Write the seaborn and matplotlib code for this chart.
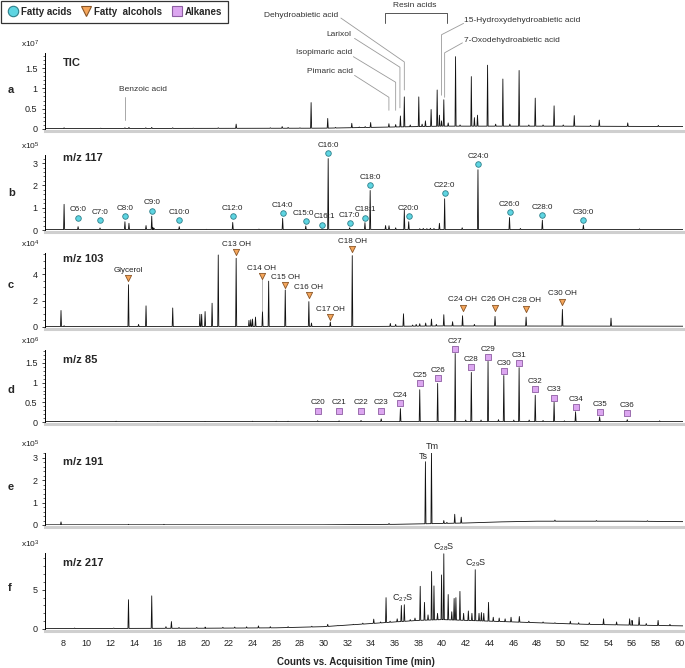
import numpy as np
import pandas as pd
import matplotlib
matplotlib.use('Agg')
import matplotlib.pyplot as plt
import seaborn as sns
from matplotlib.ticker import MultipleLocator
from matplotlib.lines import Line2D

# ---------------- data ----------------
# Panel a: TIC (x1e7)
tic_t = [8.11, 9.5, 11.2, 13.24, 13.58, 15.0, 15.5, 17.27, 19.0, 21.11, 22.62, 24.5, 25.5, 26.5, 27.0, 28.0,
         28.94, 30.34, 31.0, 32.37, 33.0, 33.5, 33.96, 35.5, 36.07, 36.47, 36.8, 37.3, 38.02, 38.3, 38.58,
         39.06, 39.57, 39.76, 39.94, 40.13, 40.5, 41.12, 41.5, 42.45, 42.71, 42.97, 43.82, 44.5, 45.11, 45.7,
         46.48, 47.3, 47.84, 48.5, 49.43, 50.2, 51.13, 52.5, 53.24, 55.64, 58.22]
tic_h = [0.03, 0.01, 0.02, 0.03, 0.04, 0.03, 0.04, 0.03, 0.02, 0.03, 0.12, 0.02, 0.03, 0.06, 0.04, 0.03,
         0.65, 0.26, 0.04, 0.14, 0.05, 0.06, 0.16, 0.13, 0.11, 0.32, 0.79, 0.10, 0.79, 0.12, 0.20,
         0.48, 0.96, 0.34, 0.20, 0.72, 0.15, 1.78, 0.10, 1.29, 0.28, 0.34, 1.57, 0.12, 1.23, 0.12,
         1.44, 0.10, 0.76, 0.10, 0.57, 0.10, 0.33, 0.09, 0.22, 0.15, 0.09]
tic_bl_t = [6.5, 30.0, 36.0, 40.0, 50.0, 60.3]
tic_bl_v = [0.01, 0.02, 0.05, 0.07, 0.07, 0.06]

# Panel b: m/z 117 (x1e5)
m117_t = [8.11, 9.29, 11.14, 13.24, 13.58, 15.02, 15.50, 15.6, 15.7, 17.82, 20.11, 22.33, 24.54, 26.54, 28.49,
          29.86, 30.38, 32.19, 33.48, 33.92, 35.22, 35.51, 36.07, 36.8, 37.17, 38.1, 38.4, 38.7, 39.0, 39.3,
          39.76, 40.20, 41.68, 43.01, 45.67, 46.59, 48.44, 51.9, 56.63]
m117_h = [1.15, 0.15, 0.09, 0.37, 0.30, 0.20, 0.62, 0.12, 0.08, 0.15, 0.03, 0.34, 0.04, 0.52, 0.18,
          0.06, 3.20, 0.10, 0.33, 1.77, 0.20, 0.19, 0.10, 0.89, 0.37, 0.06, 0.07, 0.06, 0.08, 0.07,
          0.30, 1.40, 0.10, 2.70, 0.56, 0.07, 0.44, 0.22, 0.05]
m117_bl_t = [6.5, 60.3]
m117_bl_v = [0.02, 0.02]

# Panel c: m/z 103 (x1e4)
m103_t = [7.85, 8.11, 13.54, 14.39, 15.02, 17.27, 19.56, 19.71, 20.0, 20.59, 21.11, 22.62, 23.7, 23.85, 24.0,
          24.25, 24.84, 25.36, 26.76, 28.75, 28.97, 30.56, 32.41, 35.62, 36.07, 36.73, 37.5, 37.8, 38.1, 38.6,
          39.09, 39.5, 40.13, 40.87, 41.71, 42.71, 44.45, 47.07, 50.13, 54.23]
m103_h = [1.25, 0.10, 3.20, 0.20, 1.60, 1.44, 0.96, 0.96, 1.17, 1.80, 5.45, 5.20, 0.50, 0.55, 0.60,
          0.75, 1.20, 3.47, 2.80, 1.92, 0.30, 0.37, 5.40, 0.27, 0.20, 1.00, 0.15, 0.20, 0.25, 0.30,
          0.60, 0.20, 0.93, 0.40, 0.85, 0.20, 0.80, 0.75, 1.33, 0.67]
m103_bl_t = [6.5, 34.0, 40.0, 60.3]
m103_bl_v = [0.03, 0.04, 0.08, 0.06]

# Panel d: m/z 85 (x1e6)
m85_t = [12.5, 16.0, 20.0, 24.0, 26.0, 27.0, 29.49, 31.3, 33.15, 34.85, 36.47, 38.1, 39.61, 41.09, 41.98,
         42.45, 43.27, 43.86, 44.74, 45.19, 46.03, 46.48, 47.33, 47.84, 48.5, 49.43, 50.3, 51.24, 53.27,
         55.6, 58.33]
m85_h = [0.02, 0.015, 0.015, 0.02, 0.02, 0.02, 0.03, 0.03, 0.04, 0.08, 0.34, 0.82, 0.98, 1.74, 0.05,
         1.26, 0.05, 1.54, 0.06, 1.18, 0.05, 1.38, 0.05, 0.68, 0.04, 0.50, 0.03, 0.26, 0.13,
         0.06, 0.03]
m85_bl_t = [6.5, 60.3]
m85_bl_v = [0.01, 0.01]

# Panel e: m/z 191 (x1e5)
m191_t = [7.85, 13.54, 16.53, 35.51, 38.58, 39.09, 40.13, 40.39, 41.05, 41.6, 49.5, 53.0, 57.3]
m191_h = [0.14, 0.03, 0.03, 0.07, 2.83, 3.28, 0.20, 0.12, 0.48, 0.35, 0.22, 0.20, 0.19]
m191_bl_t = [6.5, 30.0, 36.0, 38.0, 40.0, 42.0, 45.0, 48.0, 52.0, 56.0, 60.3]
m191_bl_v = [0.01, 0.01, 0.03, 0.05, 0.07, 0.09, 0.14, 0.17, 0.17, 0.17, 0.15]

# Panel f: m/z 217 (x1e3)
m217_t = [9.0, 12.3, 13.54, 15.5, 16.7, 17.16, 17.8, 19.3, 20.0, 21.5, 22.5, 23.5, 24.5, 25.5, 27.0, 29.0,
          30.34, 31.2, 32.5, 33.3, 34.22, 34.8, 35.26, 35.6, 36.2, 36.55, 36.8, 37.3, 37.7, 38.14, 38.5,
          38.8, 39.1, 39.3, 39.6, 39.94, 40.13, 40.5, 40.8, 41.0, 41.15, 41.49, 41.8, 42.2, 42.5, 42.78,
          43.1, 43.3, 43.5, 43.9, 44.3, 44.8, 45.3, 45.8, 46.5, 47.3, 48.5, 49.5, 50.8, 51.5, 52.4, 53.6,
          54.7, 55.8, 56.0, 56.6, 57.2, 58.2, 59.2]
m217_h = [0.12, 0.12, 3.74, 4.23, 0.30, 0.95, 0.20, 0.20, 0.25, 0.22, 0.25, 0.28, 0.40, 0.30, 0.30, 0.35,
          0.60, 0.45, 0.60, 0.75, 1.26, 0.90, 4.00, 1.00, 1.30, 3.00, 3.10, 1.20, 1.40, 5.45, 3.40,
          1.80, 7.34, 5.50, 2.00, 6.90, 9.60, 4.40, 2.20, 3.90, 4.00, 4.80, 2.00, 2.30, 2.00, 7.57,
          2.00, 2.10, 2.00, 3.40, 1.50, 1.40, 1.30, 1.50, 1.60, 1.00, 0.90, 0.80, 1.00, 0.80, 0.80, 1.30,
          0.90, 1.30, 1.10, 1.50, 0.70, 1.10, 0.60]
m217_bl_t = [6.5, 20.0, 26.0, 30.0, 33.0, 36.0, 38.0, 40.0, 44.0, 48.0, 52.0, 56.0, 60.3]
m217_bl_v = [0.05, 0.10, 0.15, 0.30, 0.60, 0.90, 1.10, 1.20, 1.00, 0.80, 0.60, 0.50, 0.40]

# Markers
fa_names = ['C6:0', 'C7:0', 'C8:0', 'C9:0', 'C10:0', 'C12:0', 'C14:0', 'C15:0', 'C16:1', 'C16:0', 'C17:0',
            'C18:1', 'C18:0', 'C20:0', 'C22:0', 'C24:0', 'C26:0', 'C28:0', 'C30:0']
fa_t = [9.29, 11.14, 13.24, 15.50, 17.82, 22.33, 26.54, 28.49, 29.86, 30.38, 32.19, 33.48, 33.92, 37.17,
        40.20, 43.01, 45.67, 48.44, 51.9]
fa_y = [0.56, 0.43, 0.64, 0.87, 0.46, 0.62, 0.77, 0.41, 0.24, 3.44, 0.30, 0.56, 2.00, 0.62, 1.65, 2.95,
        0.81, 0.66, 0.44]

fal_names = ['Glycerol', 'C13 OH', 'C14 OH', 'C15 OH', 'C16 OH', 'C17 OH', 'C18 OH', 'C24 OH', 'C26 OH',
             'C28 OH', 'C30 OH']
fal_t = [13.54, 22.62, 24.78, 26.76, 28.75, 30.56, 32.41, 41.71, 44.45, 47.07, 50.13]
fal_y = [3.73, 5.65, 3.87, 3.20, 2.40, 0.75, 5.92, 1.47, 1.47, 1.39, 1.92]

alk_names = ['C20', 'C21', 'C22', 'C23', 'C24', 'C25', 'C26', 'C27', 'C28', 'C29', 'C30', 'C31', 'C32',
             'C33', 'C34', 'C35', 'C36']
alk_t = [29.49, 31.3, 33.15, 34.85, 36.47, 38.1, 39.61, 41.09, 42.45, 43.86, 45.19, 46.48, 47.84, 49.43,
         51.24, 53.27, 55.6]
alk_y = [0.29, 0.29, 0.29, 0.29, 0.48, 0.98, 1.12, 1.86, 1.39, 1.65, 1.30, 1.50, 0.83, 0.62, 0.37, 0.26, 0.22]

x_ticks = list(range(8, 61, 2))

# ---------------- style ----------------
sns.set_theme(style='white')
plt.rcParams['font.family'] = ['Liberation Sans', 'DejaVu Sans']
plt.rcParams['mathtext.fontset'] = 'custom'
plt.rcParams['mathtext.rm'] = 'Liberation Sans'
plt.rcParams['mathtext.it'] = 'Liberation Sans:italic'

FA_C, FA_E = '#5ed5e2', '#2d7f8a'
FAL_C, FAL_E = '#f5a65b', '#8a5526'
ALK_C, ALK_E = '#dca6f0', '#8e5ea3'


def trace(pt, ph, bt, bv, w=0.045):
    xs = list(bt)
    ys = list(bv)
    for t, h in zip(pt, ph):
        b = float(np.interp(t, bt, bv))
        xs += [t - w, t, t + w]
        ys += [b, max(h, b), b]
    order = np.argsort(xs, kind='stable')
    return pd.DataFrame({'t': np.array(xs)[order], 'v': np.array(ys)[order]})


W, H = 685, 668
fig = plt.figure(figsize=(W / 100, H / 100), dpi=100)
L, R = 45, 683
boxes = [(53, 129), (155, 230), (253, 327), (350, 422), (453, 525), (553, 629)]
ylims = [1.87, 3.36, 5.6, 1.83, 3.22, 9.7]
majors = [0.5, 1, 2, 0.5, 1, 5]
minors = [0.1, 0.2, 0.5, 0.1, 0.2, 1]
exps = ['7', '5', '4', '6', '5', '3']
titles = ['TIC', 'm/z 117', 'm/z 103', 'm/z 85', 'm/z 191', 'm/z 217']
title_y = [0.87, 0.96, 0.92, 0.86, 0.875, 0.87]
letters = ['a', 'b', 'c', 'd', 'e', 'f']
letter_y = [90, 193, 285, 390, 487, 588]
series = [(tic_t, tic_h, tic_bl_t, tic_bl_v), (m117_t, m117_h, m117_bl_t, m117_bl_v),
          (m103_t, m103_h, m103_bl_t, m103_bl_v), (m85_t, m85_h, m85_bl_t, m85_bl_v),
          (m191_t, m191_h, m191_bl_t, m191_bl_v), (m217_t, m217_h, m217_bl_t, m217_bl_v)]

axes = []
for i, (top, bot) in enumerate(boxes):
    ax = fig.add_axes([L / W, 1 - bot / H, (R - L) / W, (bot - top) / H])
    axes.append(ax)
    df = trace(*series[i])
    sns.lineplot(data=df, x='t', y='v', ax=ax, color='#111111', lw=0.6, estimator=None, sort=False,
                 legend=False)
    ax.set_xlim(6.5, 60.3)
    ax.set_ylim(0, ylims[i])
    ax.set_xlabel('')
    ax.set_ylabel('')
    for s in ['top', 'right']:
        ax.spines[s].set_visible(False)
    ax.spines['left'].set_color('black')
    ax.spines['left'].set_linewidth(0.7)
    ax.spines['bottom'].set_color('#cfcfcf')
    ax.spines['bottom'].set_linewidth(2.2)
    ax.spines['bottom'].set_position(('outward', 1.2))
    ax.yaxis.set_major_locator(MultipleLocator(majors[i]))
    ax.yaxis.set_minor_locator(MultipleLocator(minors[i]))
    ax.tick_params(axis='y', which='major', direction='out', length=2.5, width=0.6, labelsize=6.5,
                   colors='#222222', pad=3, left=True)
    ax.tick_params(axis='y', which='minor', direction='out', length=1.5, width=0.5, left=True)
    ax.set_yticklabels([('%g' % v) for v in ax.get_yticks()])
    ax.set_ylim(0, ylims[i])
    ax.set_xticks(x_ticks)
    ax.tick_params(axis='x', length=0, labelsize=6.5, colors='#222222', pad=6)
    if i < 5:
        ax.set_xticklabels([])
    ax.annotate('x10$^{%s}$' % exps[i], xy=(0, 1), xycoords='axes fraction', xytext=(-4, 2),
                textcoords='offset points', ha='right', va='bottom', fontsize=6, color='#222222')
    ax.text(0.028, title_y[i], titles[i], transform=ax.transAxes, fontsize=8, fontweight='bold',
            ha='left', va='center')
    fig.text(8 / W, 1 - letter_y[i] / H, letters[i], fontsize=8, fontweight='bold', ha='left',
             va='center')

axa, axb, axc, axd, axe, axf = axes

# ---- panel a annotations ----
GL = dict(color='#9a9a9a', lw=0.6, clip_on=False)
TX = dict(fontsize=6, color='#333333', clip_on=False)
axa.plot([13.28, 13.28], [0.78, 0.21], **GL)
axa.text(14.75, 0.97, 'Benzoic acid', ha='center', va='center', **TX)
axa.plot([32.6, 35.5, 35.5], [1.32, 0.78, 0.46], **GL)
axa.text(30.5, 1.42, 'Pimaric acid', ha='center', va='center', **TX)
axa.plot([32.5, 36.07, 36.07], [1.78, 1.15, 0.46], **GL)
axa.text(30.05, 1.875, 'Isopimaric acid', ha='center', va='center', **TX)
axa.plot([32.6, 36.43, 36.43], [2.23, 1.52, 0.52], **GL)
axa.text(31.26, 2.33, 'Larixol', ha='center', va='center', **TX)
axa.plot([31.45, 36.8, 36.8], [2.73, 1.65, 0.96], **GL)
axa.text(28.1, 2.79, 'Dehydroabietic acid', ha='center', va='center', **TX)
axa.plot([35.2, 35.2, 40.4, 40.4], [2.6, 2.86, 2.86, 2.6], color='#555555', lw=0.7, clip_on=False)
axa.text(37.65, 3.04, 'Resin acids', ha='center', va='center', **TX)
axa.plot([41.8, 39.94, 39.94], [2.6, 2.32, 0.83], **GL)
axa.text(41.86, 2.675, '15-Hydroxydehydroabietic acid', ha='left', va='center', **TX)
axa.plot([41.7, 40.2, 40.2], [2.12, 1.875, 0.78], **GL)
axa.text(41.86, 2.17, '7-Oxodehydroabietic acid', ha='left', va='center', **TX)

# ---- markers ----
def marks(ax, ts, ys, names, marker, fc, ec, s, fs=5.8, dy=3, dx=None):
    sns.scatterplot(x=ts, y=ys, ax=ax, marker=marker, s=s, color=fc, edgecolor=ec, linewidth=0.6,
                    zorder=5, clip_on=False, legend=False)
    for k, (t, y, n) in enumerate(zip(ts, ys, names)):
        ox = 0 if dx is None else dx.get(n, 0)
        ax.annotate(n, xy=(t, y), xytext=(ox, dy), textcoords='offset points', ha='center',
                    va='bottom', fontsize=fs, color='#222222', annotation_clip=False)

marks(axb, fa_t, fa_y, fa_names, 'o', FA_C, FA_E, 16, dx={'C15:0': -1.5, 'C16:1': 2.0})
axc.plot([24.82, 24.82], [3.6, 1.2], color='#aaaaaa', lw=0.6)
marks(axc, fal_t, fal_y, fal_names, 'v', FAL_C, FAL_E, 20)
marks(axd, alk_t, alk_y, alk_names, 's', ALK_C, ALK_E, 13)

# ---- panel e, f labels ----
axe.text(38.42, 2.86, 'Ts', ha='center', va='bottom', fontsize=6.5, clip_on=False)
axe.text(39.15, 3.32, 'Tm', ha='center', va='bottom', fontsize=6.5, clip_on=False)
axf.text(36.7, 3.2, 'C$_{27}$S', ha='center', va='bottom', fontsize=6.5, clip_on=False)
axf.text(40.13, 9.7, 'C$_{28}$S', ha='center', va='bottom', fontsize=6.5, clip_on=False)
axf.text(42.78, 7.7, 'C$_{29}$S', ha='center', va='bottom', fontsize=6.5, clip_on=False)

fig.text(356 / W, 1 - 662 / H, 'Counts vs. Acquisition Time (min)', fontsize=7, fontweight='bold',
         ha='center', va='center')

# ---- legend ----
handles = [Line2D([], [], marker='o', ls='', ms=7.5, mfc=FA_C, mec=FA_E, mew=0.8, label='Fatty acids'),
           Line2D([], [], marker='v', ls='', ms=7.5, mfc=FAL_C, mec=FAL_E, mew=0.8, label='Fatty  alcohols'),
           Line2D([], [], marker='s', ls='', ms=7, mfc=ALK_C, mec=ALK_E, mew=0.8, label='Alkanes')]
leg = fig.legend(handles=handles, loc='upper left', bbox_to_anchor=(0.0, 1.0), ncol=3, frameon=True,
                 fancybox=False, edgecolor='black', prop={'weight': 'bold', 'size': 7},
                 handletextpad=0.25, columnspacing=0.9, borderpad=0.6, handlelength=1.2,
                 borderaxespad=0.1)
leg.get_frame().set_linewidth(0.9)

fig.savefig('out.png', dpi=100)
